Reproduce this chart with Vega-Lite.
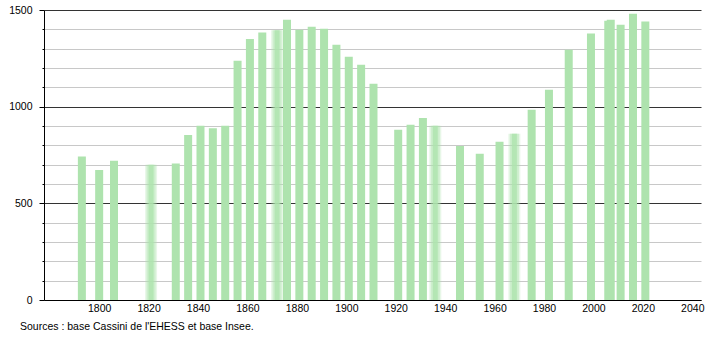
{
  "$schema": "https://vega.github.io/schema/vega-lite/v6.json",
  "width": 657,
  "height": 290,
  "autosize": {"type": "none"},
  "padding": {"left": 44, "top": 10, "right": 9, "bottom": 40},
  "background": "white",
  "config": {
    "view": {"stroke": null},
    "font": "Liberation Sans",
    "axis": {"labelFont": "Liberation Sans", "labelColor": "black", "labelFontSize": 10.5, "domainColor": "black", "domainWidth": 1}
  },
  "title": {
    "text": "Sources : base Cassini de l'EHESS et base Insee.",
    "orient": "bottom",
    "anchor": "start",
    "frame": "group",
    "dx": -24,
    "offset": 8,
    "fontSize": 10.5,
    "fontWeight": "normal",
    "color": "black",
    "font": "Liberation Sans"
  },
  "data": {
    "values": [
      {"year": 1793, "pop": 742},
      {"year": 1800, "pop": 673},
      {"year": 1806, "pop": 720},
      {"year": 1821, "pop": 699},
      {"year": 1831, "pop": 706},
      {"year": 1836, "pop": 854},
      {"year": 1841, "pop": 901},
      {"year": 1846, "pop": 889},
      {"year": 1851, "pop": 901},
      {"year": 1856, "pop": 1238},
      {"year": 1861, "pop": 1350},
      {"year": 1866, "pop": 1383},
      {"year": 1872, "pop": 1395},
      {"year": 1876, "pop": 1450},
      {"year": 1881, "pop": 1398},
      {"year": 1886, "pop": 1414},
      {"year": 1891, "pop": 1403},
      {"year": 1896, "pop": 1320},
      {"year": 1901, "pop": 1258},
      {"year": 1906, "pop": 1217},
      {"year": 1911, "pop": 1119},
      {"year": 1921, "pop": 880},
      {"year": 1926, "pop": 906},
      {"year": 1931, "pop": 942},
      {"year": 1936, "pop": 901},
      {"year": 1946, "pop": 797},
      {"year": 1954, "pop": 756},
      {"year": 1962, "pop": 818},
      {"year": 1968, "pop": 860},
      {"year": 1975, "pop": 984},
      {"year": 1982, "pop": 1088},
      {"year": 1990, "pop": 1295},
      {"year": 1999, "pop": 1378},
      {"year": 2006, "pop": 1445},
      {"year": 2007, "pop": 1450},
      {"year": 2011, "pop": 1424},
      {"year": 2016, "pop": 1481},
      {"year": 2021, "pop": 1440}
    ]
  },
  "encoding": {
    "x": {
      "field": "year",
      "type": "quantitative",
      "scale": {"domain": [1779.7, 2041.5], "nice": false, "zero": false},
      "axis": {
        "values": [1800, 1820, 1840, 1860, 1880, 1900, 1920, 1940, 1960, 1980, 2000, 2020, 2040],
        "format": "d",
        "title": null,
        "grid": false,
        "ticks": false,
        "tickSize": 0,
        "labelPadding": 3,
        "labelFlush": false,
        "labelOverlap": false
      }
    },
    "y": {
      "field": "pop",
      "type": "quantitative",
      "scale": {"domain": [0, 1500], "nice": false},
      "axis": {
        "values": [0, 100, 200, 300, 400, 500, 600, 700, 800, 900, 1000, 1100, 1200, 1300, 1400, 1500],
        "format": "d",
        "title": null,
        "labelExpr": "datum.value % 500 === 0 ? datum.label : ''",
        "labelOverlap": false,
        "grid": true,
        "gridColor": {"condition": {"test": "datum.value % 500 === 0", "value": "#333333"}, "value": "#c8c8c8"},
        "gridOpacity": 1,
        "tickSize": {"condition": {"test": "datum.value % 500 === 0", "value": 5}, "value": 2},
        "tickColor": "black",
        "labelPadding": 7
      }
    }
  },
  "layer": [
    {
      "transform": [{"filter": {"not": {"field": "year", "oneOf": [1821, 1872, 1936, 1968]}}}],
      "mark": {"type": "bar", "size": 8, "color": "#aee3ae"}
    },
    {
      "transform": [{"filter": {"field": "year", "oneOf": [1821, 1872, 1936, 1968]}}],
      "mark": {"type": "bar", "size": 12, "color": "#aee3ae", "opacity": 0.3}
    },
    {
      "transform": [{"filter": {"field": "year", "oneOf": [1821, 1872, 1936, 1968]}}],
      "mark": {"type": "bar", "size": 9, "color": "#aee3ae", "opacity": 0.45}
    },
    {
      "transform": [{"filter": {"field": "year", "oneOf": [1821, 1872, 1936, 1968]}}],
      "mark": {"type": "bar", "size": 5, "color": "#aee3ae", "opacity": 0.8}
    }
  ]
}
